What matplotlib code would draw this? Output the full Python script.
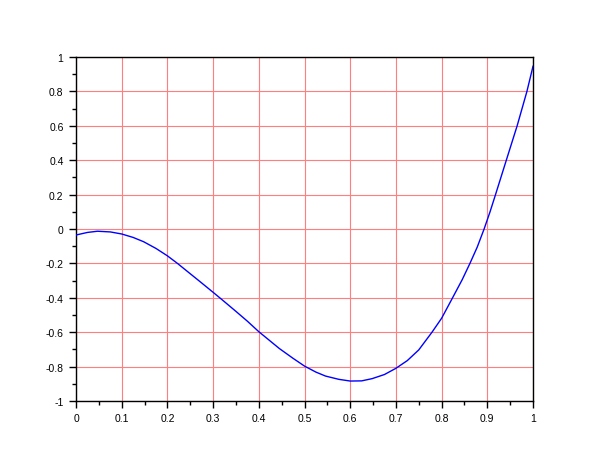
import matplotlib
matplotlib.use("Agg")
import matplotlib.pyplot as plt
from matplotlib.ticker import MultipleLocator, FormatStrFormatter

plt.rcParams['font.family'] = ['Liberation Sans', 'DejaVu Sans']
plt.rcParams['axes.unicode_minus'] = False

x_vals = [0.0, 0.025, 0.047, 0.075, 0.1, 0.125, 0.148, 0.175, 0.2, 0.222, 0.242,
          0.27, 0.3, 0.32, 0.35, 0.375, 0.4, 0.445, 0.475, 0.5, 0.525, 0.546,
          0.575, 0.6, 0.625, 0.648, 0.675, 0.7, 0.725, 0.75, 0.779, 0.8, 0.823,
          0.845, 0.862, 0.878, 0.893, 0.906, 0.918, 0.9416, 0.9653, 0.9867, 1.0]
y_vals = [-0.035, -0.020, -0.013, -0.017, -0.029, -0.049, -0.074, -0.113, -0.156,
          -0.200, -0.243, -0.303, -0.368, -0.412, -0.479, -0.536, -0.597, -0.695,
          -0.752, -0.797, -0.832, -0.855, -0.874, -0.884, -0.883, -0.870, -0.846,
          -0.810, -0.765, -0.703, -0.600, -0.519, -0.405, -0.295, -0.200, -0.105,
          0.0, 0.100, 0.200, 0.400, 0.600, 0.800, 0.946]

x_ticks = [0, 0.1, 0.2, 0.3, 0.4, 0.5, 0.6, 0.7, 0.8, 0.9, 1]
y_ticks = [-1, -0.8, -0.6, -0.4, -0.2, 0, 0.2, 0.4, 0.6, 0.8, 1]

fig = plt.figure(figsize=(6.1, 4.6), dpi=100)
ax = fig.add_axes([76/610, 1-402/460, (533-76)/610, (402-58)/460])

ax.plot(x_vals, y_vals, color='#0000ff', lw=1.0, zorder=3)

ax.set_xlim(0, 1)
ax.set_ylim(-1, 1)
ax.set_xticks(x_ticks)
ax.set_yticks(y_ticks)
ax.xaxis.set_minor_locator(MultipleLocator(0.05))
ax.yaxis.set_minor_locator(MultipleLocator(0.1))
ax.xaxis.set_major_formatter(FormatStrFormatter('%g'))
ax.yaxis.set_major_formatter(FormatStrFormatter('%g'))

ax.grid(True, which='major', color='#ff7f7f', lw=0.8)
ax.set_axisbelow(True)

ax.tick_params(which='major', direction='out', length=5, width=1, labelsize=7.5,
               colors='black', pad=4)
ax.tick_params(which='minor', direction='out', length=3, width=1)
for s in ax.spines.values():
    s.set_color('black')
    s.set_linewidth(1.0)

fig.savefig('out.png', dpi=100)
